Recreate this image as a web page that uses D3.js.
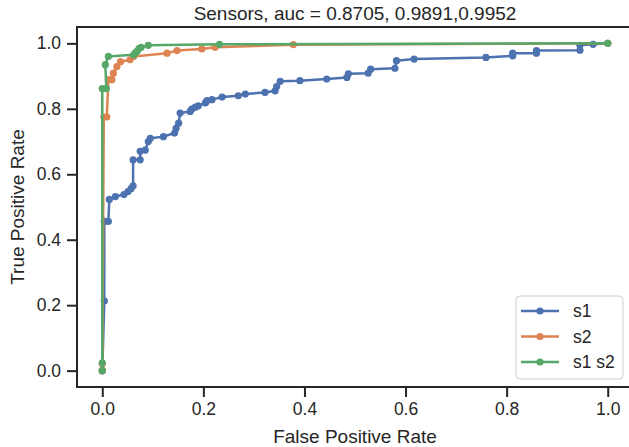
<!DOCTYPE html>
<html>
<head>
<meta charset="utf-8">
<script src="https://cdn.jsdelivr.net/npm/d3@7"></script>
<style>
  html, body { margin: 0; padding: 0; background: #fff; }
  svg { display: block; font-family: "Liberation Sans", Arial, sans-serif; }
</style>
</head>
<body>
<div id="chart"></div>
<script>
// ROC points: [fpr, tpr]
const s1 = [
    [0, 0], [0.004, 0.213], [0.004, 0.456], [0.012, 0.456], [0.014, 0.523],
    [0.026, 0.532], [0.043, 0.538], [0.051, 0.547], [0.057, 0.556], [0.061, 0.565],
    [0.061, 0.644], [0.075, 0.644], [0.075, 0.670], [0.085, 0.674], [0.091, 0.700],
    [0.095, 0.710], [0.121, 0.715], [0.143, 0.726], [0.146, 0.740], [0.151, 0.756],
    [0.154, 0.787], [0.174, 0.792], [0.177, 0.799], [0.184, 0.805], [0.190, 0.809],
    [0.204, 0.818], [0.207, 0.825], [0.217, 0.828], [0.237, 0.836], [0.269, 0.840],
    [0.283, 0.845], [0.322, 0.850], [0.342, 0.855], [0.345, 0.868], [0.352, 0.884],
    [0.391, 0.886], [0.444, 0.891], [0.484, 0.896], [0.487, 0.907], [0.526, 0.909],
    [0.531, 0.921], [0.579, 0.924], [0.582, 0.947], [0.617, 0.952], [0.759, 0.957],
    [0.812, 0.962], [0.812, 0.970], [0.859, 0.970], [0.859, 0.978], [0.945, 0.979],
    [0.945, 0.994], [0.971, 0.997], [1, 1]
];
const s2 = [
    [0, 0], [0, 0.021], [0.003, 0.775], [0.009, 0.775], [0.012, 0.889],
    [0.019, 0.889], [0.022, 0.909], [0.029, 0.929], [0.036, 0.944], [0.055, 0.950],
    [0.062, 0.960], [0.128, 0.970], [0.148, 0.978], [0.197, 0.983], [0.223, 0.988],
    [0.378, 0.996], [1, 1]
];
const s1s2 = [
    [0, 0], [0, 0.024], [0, 0.862], [0.008, 0.862], [0.006, 0.935],
    [0.012, 0.960], [0.062, 0.965], [0.065, 0.970], [0.069, 0.976], [0.073, 0.985],
    [0.077, 0.988], [0.091, 0.994], [0.232, 0.997], [1, 1]
];
const seriesNames = ['s1', 's2', 's1 s2'];
const seriesColors = ['#4c72b0', '#dd8452', '#55a868'];
const tickValues = [0, 0.2, 0.4, 0.6, 0.8, 1.0];
const titleText = 'Sensors, auc = 0.8705, 0.9891,0.9952';

const width = 629, height = 447;
const margin = { top: 27, right: -4, bottom: 60, left: 77 };
const ink = '#262626';

const svg = d3.select('#chart').append('svg')
    .attr('width', width)
    .attr('height', height);

const x = d3.scaleLinear().domain([-0.05, 1.05]).range([margin.left, width - margin.right]);
const y = d3.scaleLinear().domain([-0.05, 1.05]).range([height - margin.bottom, margin.top]);

svg.append('clipPath').attr('id', 'plot-clip')
    .append('rect')
    .attr('x', x(-0.05)).attr('y', y(1.05))
    .attr('width', x(1.05) - x(-0.05))
    .attr('height', y(-0.05) - y(1.05));

// Axes
const xAxis = svg.append('g')
    .attr('transform', `translate(0,${y(-0.05)})`)
    .call(d3.axisBottom(x).tickValues(tickValues).tickFormat(d3.format('.1f')).tickSize(10).tickPadding(6));
const yAxis = svg.append('g')
    .attr('transform', `translate(${x(-0.05)},0)`)
    .call(d3.axisLeft(y).tickValues(tickValues).tickFormat(d3.format('.1f')).tickSize(10).tickPadding(6));

[xAxis, yAxis].forEach(g => {
    g.select('.domain').remove();
    g.selectAll('line').attr('stroke', ink).attr('stroke-width', 2);
    g.selectAll('text')
        .attr('fill', ink)
        .style('font-size', '17.5px')
        .style('font-family', '"Liberation Sans", Arial, sans-serif');
});

// Spines
svg.append('rect')
    .attr('x', x(-0.05)).attr('y', y(1.05))
    .attr('width', x(1.05) - x(-0.05))
    .attr('height', y(-0.05) - y(1.05))
    .attr('fill', 'none')
    .attr('stroke', ink)
    .attr('stroke-width', 2);

// Curves
const line = d3.line().x(d => x(d[0])).y(d => y(d[1]));
const plot = svg.append('g').attr('clip-path', 'url(#plot-clip)');

[s1, s2, s1s2].forEach((data, i) => {
    const g = plot.append('g');
    g.append('path')
        .datum(data)
        .attr('d', line)
        .attr('fill', 'none')
        .attr('stroke', seriesColors[i])
        .attr('stroke-width', 2.5)
        .attr('stroke-linejoin', 'round');
    g.selectAll('circle')
        .data(data)
        .enter()
        .append('circle')
        .attr('cx', d => x(d[0]))
        .attr('cy', d => y(d[1]))
        .attr('r', 3.6)
        .attr('fill', seriesColors[i]);
});

// Title and labels
svg.append('text')
    .attr('x', (x(-0.05) + x(1.05)) / 2)
    .attr('y', 20)
    .attr('text-anchor', 'middle')
    .attr('fill', ink)
    .style('font-size', '19px')
    .text(titleText);

svg.append('text')
    .attr('x', (x(-0.05) + x(1.05)) / 2)
    .attr('y', 443)
    .attr('text-anchor', 'middle')
    .attr('fill', ink)
    .style('font-size', '19px')
    .text('False Positive Rate');

svg.append('text')
    .attr('transform', `translate(24,${(y(-0.05) + y(1.05)) / 2}) rotate(-90)`)
    .attr('text-anchor', 'middle')
    .attr('fill', ink)
    .style('font-size', '19px')
    .text('True Positive Rate');

// Legend
const legend = svg.append('g').attr('transform', 'translate(516,296)');
legend.append('rect')
    .attr('width', 107)
    .attr('height', 83)
    .attr('rx', 4)
    .attr('fill', 'rgba(255,255,255,0.8)')
    .attr('stroke', '#cccccc')
    .attr('stroke-width', 1);

seriesNames.forEach((name, i) => {
    const row = legend.append('g').attr('transform', `translate(0,${15 + i * 25.5})`);
    row.append('line')
        .attr('x1', 5).attr('x2', 43)
        .attr('stroke', seriesColors[i])
        .attr('stroke-width', 2.5);
    row.append('circle')
        .attr('cx', 24).attr('r', 3.6)
        .attr('fill', seriesColors[i]);
    row.append('text')
        .attr('x', 57)
        .attr('dy', '0.35em')
        .attr('fill', ink)
        .style('font-size', '17.5px')
        .text(name);
});
</script>
</body>
</html>
